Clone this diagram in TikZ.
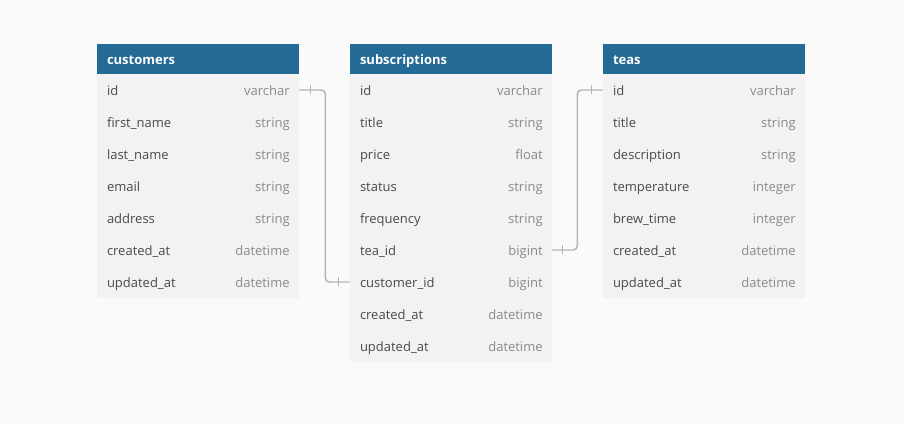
\documentclass[tikz,border=0pt]{standalone}
\usepackage{fontspec}
\setmainfont{Open Sans}
\definecolor{bgc}{HTML}{FAFAFA}
\definecolor{hdr}{HTML}{236A96}
\definecolor{rowc}{HTML}{F2F2F2}
\definecolor{namec}{HTML}{4A4A4A}
\definecolor{typec}{HTML}{8A8A8A}
\definecolor{linec}{HTML}{B4B4B4}
\tikzset{
  hdrbox/.style={draw=none, fill=hdr, minimum width=151.5pt, minimum height=22.5pt, inner sep=0pt},
  rowbox/.style={draw=none, fill=rowc, minimum width=151.5pt, minimum height=24pt, inner sep=0pt},
  txt/.style={inner sep=0pt, text height=7.2pt, text depth=2pt, yshift=-1.5pt},
  hdrtext/.style={txt, anchor=west, text=white, font=\fontsize{9.75}{11}\selectfont\bfseries},
  nametext/.style={txt, anchor=west, text=namec, font=\fontsize{9.75}{11}\selectfont},
  typetext/.style={txt, anchor=east, text=typec, font=\fontsize{9.75}{11}\selectfont},
  rel/.style={draw=linec, line width=1.1pt, rounded corners=3pt},
  tick/.style={draw=linec, line width=1.1pt},
}
\newcommand\ehead[4]{% name, x, y, title
  \node[hdrbox] (#1) at (#2,#3) {};
  \node[hdrtext] (#1-t) at ([xshift=7.5pt]#1.west) {#4};
}
\newcommand\erow[5]{% name, x, y, field, type
  \node[rowbox] (#1) at (#2,#3) {};
  \node[nametext] (#1-n) at ([xshift=7.5pt]#1.west) {#4};
  \node[typetext] (#1-y) at ([xshift=-7pt]#1.east) {#5};
}
\begin{document}
\begin{tikzpicture}[x=0.75pt, y=-0.75pt]
\useasboundingbox[fill=bgc] (0,0) rectangle (904,424);
% customers
\ehead{c}{198}{59}{customers}
\erow{c1}{198}{90}{id}{varchar}
\erow{c2}{198}{122}{first\_name}{string}
\erow{c3}{198}{154}{last\_name}{string}
\erow{c4}{198}{186}{email}{string}
\erow{c5}{198}{218}{address}{string}
\erow{c6}{198}{250}{created\_at}{datetime}
\erow{c7}{198}{282}{updated\_at}{datetime}
% subscriptions
\ehead{s}{451}{59}{subscriptions}
\erow{s1}{451}{90}{id}{varchar}
\erow{s2}{451}{122}{title}{string}
\erow{s3}{451}{154}{price}{float}
\erow{s4}{451}{186}{status}{string}
\erow{s5}{451}{218}{frequency}{string}
\erow{s6}{451}{250}{tea\_id}{bigint}
\erow{s7}{451}{282}{customer\_id}{bigint}
\erow{s8}{451}{314}{created\_at}{datetime}
\erow{s9}{451}{346}{updated\_at}{datetime}
% teas
\ehead{t}{704}{59}{teas}
\erow{t1}{704}{90}{id}{varchar}
\erow{t2}{704}{122}{title}{string}
\erow{t3}{704}{154}{description}{string}
\erow{t4}{704}{186}{temperature}{integer}
\erow{t5}{704}{218}{brew\_time}{integer}
\erow{t6}{704}{250}{created\_at}{datetime}
\erow{t7}{704}{282}{updated\_at}{datetime}
% relations
\draw[rel] (c1.east) -- ++(26,0) |- (s7.west);
\draw[tick] ([xshift=8.25pt]c1.east) ++(0,-4.5) -- ++(0,9);
\draw[tick] ([xshift=-8.25pt]s7.west) ++(0,-4.5) -- ++(0,9);
\draw[rel] (s6.east) -- ++(25,0) |- (t1.west);
\draw[tick] ([xshift=7.5pt]s6.east) ++(0,-4.5) -- ++(0,9);
\draw[tick] ([xshift=-8.25pt]t1.west) ++(0,-4.5) -- ++(0,9);
\end{tikzpicture}
\end{document}
